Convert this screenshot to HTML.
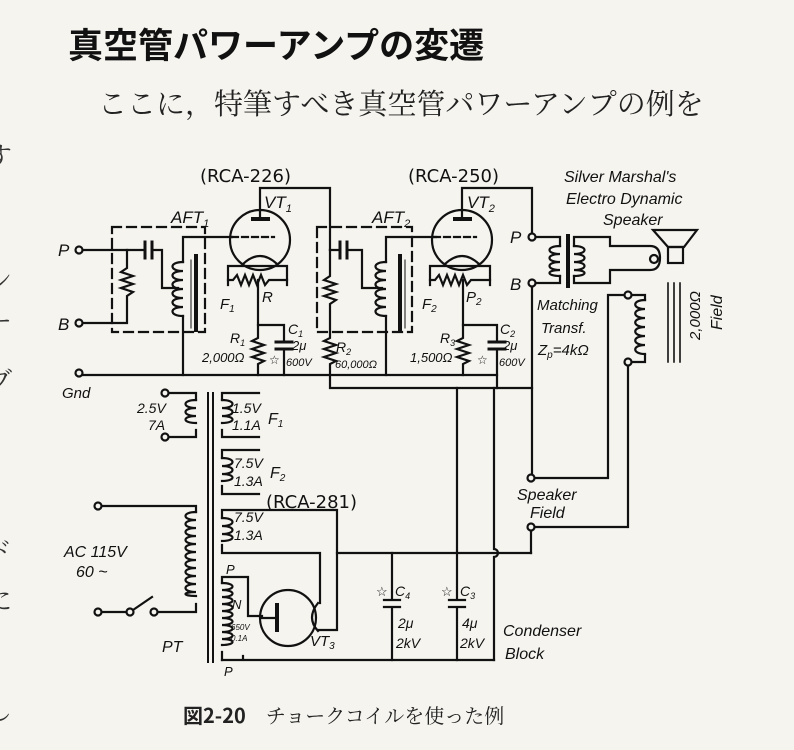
<!DOCTYPE html>
<html><head><meta charset="utf-8"><style>
body{margin:0;background:#f5f4ef;}
svg{display:block}
.t{font-family:"Liberation Sans","Noto Sans CJK JP",sans-serif;}
.i{font-family:"Liberation Sans",sans-serif;font-style:italic;fill:#111;}
</style></head><body>
<svg width="794" height="750" viewBox="0 0 794 750" xmlns="http://www.w3.org/2000/svg">
<rect width="794" height="750" fill="#f5f4ef"/>
<g font-size="26" fill="#333" style="font-family:'Noto Serif CJK JP','Noto Serif CJK SC',serif">
<text x="-14" y="165">す</text><text x="-14" y="290">ン</text><text x="-14" y="330">ー</text>
<text x="-14" y="390">ブ</text><text x="-14" y="560">ド</text><text x="-14" y="610">に</text><text x="-14" y="720">し</text>
</g>
<text x="68" y="58" class="t" font-size="35" font-weight="bold" fill="#111" style="font-family:'Noto Sans CJK JP',sans-serif">真空管パワーアンプの変遷</text>
<text x="98" y="114" font-size="29" fill="#222" style="font-family:'Noto Serif CJK JP','Noto Serif CJK SC',serif">ここに，特筆すべき真空管パワーアンプの例を</text>
<text x="183" y="723" font-size="20" fill="#222" style="font-family:'Noto Sans CJK JP',sans-serif"><tspan font-weight="bold">図2-20</tspan>　<tspan style="font-family:'Noto Serif CJK JP','Noto Serif CJK SC',serif">チョークコイルを使った例</tspan></text>

<g stroke="#111" stroke-width="2.2" fill="none" stroke-linecap="square">
<circle cx="79" cy="250" r="3.5" fill="#f5f4ef"/>
<circle cx="79" cy="323" r="3.5" fill="#f5f4ef"/>
<path d="M83 250H145M152 250H162V288H178"/>
<path d="M145 242V258M152 242V258" stroke-width="3"/>
<path d="M127 250V268l-6 4 12 4-12 4 12 4-12 4 12 4-6 4V323H83"/>
<rect x="112" y="227" width="93" height="105" stroke-dasharray="9 6"/>
<path d="M183 237H232M183 237V262"/>
<path d="M183 262c-14 0-14 9 0 9c-14 0-14 9 0 9c-14 0-14 9 0 9c-14 0-14 9 0 9c-14 0-14 9 0 9c-14 0-14 9 0 9"/>
<path d="M183 316V375"/>
<path d="M196 256V330" stroke-width="4"/>
<path d="M191 260V328" stroke-width="1"/>
<circle cx="260" cy="240" r="30"/>
<path d="M253 219H268" stroke-width="4"/>
<path d="M260 219V188H330V250"/>
<path d="M232 237H274" stroke-dasharray="6 4"/>
<path d="M243 264q17-16 34 0"/>
<path d="M243 264V266M277 264V266M228 266H287M228 266V285M287 266V285"/>
<path d="M228 280l5 0 4-5 4 10 4-10 4 10 4-10 4 10 4-10 4 10 4-5 4 0 H287"/>
<path d="M258 280V325M258 325V338l-6 3 12 4-12 4 12 4-12 4 12 4-6 3V375"/>
<path d="M258 325H284V342M284 349V375"/>
<path d="M276 342H292M276 349H292" stroke-width="3"/>
<path d="M330 250H340M347 250H362V288H382"/>
<path d="M340 242V258M347 242V258" stroke-width="3"/>
<path d="M330 250V276l-6 4 12 4-12 4 12 4-12 4 12 4-6 4V338l-6 3 12 4-12 4 12 4-12 4 12 4-6 3V388H532"/>
<rect x="317" y="227" width="95" height="105" stroke-dasharray="9 6"/>
<path d="M386 237H436M386 237V262"/>
<path d="M386 262c-14 0-14 9 0 9c-14 0-14 9 0 9c-14 0-14 9 0 9c-14 0-14 9 0 9c-14 0-14 9 0 9c-14 0-14 9 0 9"/>
<path d="M386 316V375"/>
<path d="M400 256V330" stroke-width="4"/>
<path d="M405 260V328" stroke-width="1"/>
<circle cx="462" cy="240" r="30"/>
<path d="M455 219H470" stroke-width="4"/>
<path d="M462 219V188H532V233"/>
<path d="M434 237H476" stroke-dasharray="6 4"/>
<path d="M445 264q17-16 34 0"/>
<path d="M445 264V266M479 264V266M430 266H490M430 266V285M490 266V285"/>
<path d="M430 280l5 0 4-5 4 10 4-10 4 10 4-10 4 10 4-10 4 10 4-5 4 0 H490"/>
<path d="M463 280V325M463 325V338l-6 3 12 4-12 4 12 4-12 4 12 4-6 3V375"/>
<path d="M463 325H497V342M497 349V388"/>
<path d="M489 342H505M489 349H505" stroke-width="3"/>
<circle cx="79" cy="373" r="3.5" fill="#f5f4ef"/>
<path d="M83 375H497"/>
<circle cx="532" cy="237" r="3.5" fill="#f5f4ef"/>
<circle cx="532" cy="283" r="3.5" fill="#f5f4ef"/>
<path d="M536 237H560V246M536 283H560V276"/>
<path d="M560 246c-14 0-14 8 0 8c-14 0-14 8 0 8c-14 0-14 8 0 8c-14 0-14 6 0 6"/>
<path d="M568 236V286" stroke-width="4"/>
<path d="M574 246c14 0 14 8 0 8c14 0 14 8 0 8c14 0 14 8 0 8c14 0 14 6 0 6"/>
<path d="M574 246V237H610V246H650q10 0 10 12q0 12-10 12H610V283H574V276"/>
<ellipse cx="654" cy="259" rx="4" ry="4"/>
<path d="M653 230H697L684 247H668Z"/>
<rect x="668" y="247" width="15" height="16"/>
<circle cx="628" cy="295" r="3.5" fill="#f5f4ef"/>
<circle cx="628" cy="362" r="3.5" fill="#f5f4ef"/>
<path d="M632 295H645V300M632 362H645V355"/>
<path d="M645 300c-13 0-13 9 0 9c-13 0-13 9 0 9c-13 0-13 9 0 9c-13 0-13 9 0 9c-13 0-13 9 0 9c-13 0-13 9 0 9"/>
<path d="M668 283V362M674 283V362M680 283V362" stroke-width="1.6"/>
<path d="M624 295H608V478H535M628 366V527H535"/>
<circle cx="531" cy="478" r="3.5" fill="#f5f4ef"/>
<circle cx="531" cy="527" r="3.5" fill="#f5f4ef"/>
<path d="M532 287V474M531 531V553"/>
<path d="M208 393V662M213 393V662" stroke-width="2"/>
<circle cx="165" cy="393" r="3.5" fill="#f5f4ef"/>
<circle cx="165" cy="437" r="3.5" fill="#f5f4ef"/>
<path d="M169 393H196V400M169 437H196V430"/>
<path d="M196 400c-14 0-14 8 0 8c-14 0-14 8 0 8c-14 0-14 7 0 7"/>
<path d="M222 393H259M222 437H259M222 393V400M222 437V430"/>
<path d="M222 400c14 0 14 8 0 8c14 0 14 8 0 8c14 0 14 7 0 7"/>
<path d="M222 450H259M222 494H259M222 450V458M222 494V486"/>
<path d="M222 458c14 0 14 8 0 8c14 0 14 8 0 8c14 0 14 7 0 7"/>
<path d="M222 510H337V630H318M222 510V518M222 553V545M222 553H320V603"/>
<path d="M222 518c14 0 14 8 0 8c14 0 14 8 0 8c14 0 14 7 0 7"/>
<path d="M337 553H531"/>
<circle cx="98" cy="506" r="3.5" fill="#f5f4ef"/>
<circle cx="98" cy="612" r="3.5" fill="#f5f4ef"/>
<circle cx="130" cy="612" r="3.5" fill="#f5f4ef"/>
<circle cx="154" cy="612" r="3.5" fill="#f5f4ef"/>
<path d="M102 506H196V512M102 612H126M133 610L152 597M158 612H196V604"/>
<path d="M196 512c-14 0-14 8 0 8c-14 0-14 8 0 8c-14 0-14 8 0 8c-14 0-14 8 0 8c-14 0-14 8 0 8c-14 0-14 8 0 8c-14 0-14 8 0 8c-14 0-14 8 0 8c-14 0-14 8 0 8c-14 0-14 8 0 8c-14 0-14 4 0 4"/>
<path d="M222 577H248V616H262M222 577V583M222 660V652"/>
<path d="M222 583c14 0 14 7 0 7c14 0 14 7 0 7c14 0 14 7 0 7c14 0 14 7 0 7c14 0 14 7 0 7c14 0 14 7 0 7c14 0 14 7 0 7c14 0 14 7 0 7c14 0 14 6 0 6"/>
<circle cx="288" cy="618" r="28"/>
<path d="M277 605V630" stroke-width="4"/>
<path d="M262 618H277"/>
<path d="M318 603q-12 15 0 28"/>
<path d="M222 660H494M243 656V660"/>
<path d="M392 553V600M392 607V660M384 600H400M384 607H400"/>
<path d="M457 388V600M457 607V660M449 600H465M449 607H465"/>
<path d="M494 388V549a4 4 0 0 1 0 8V660"/>
</g>
<g class="i" fill="#111">
<text x="200" y="182" font-size="18" font-style="normal" style="font-family:'DejaVu Sans',sans-serif">(RCA-226)</text>
<text x="408" y="182" font-size="18" font-style="normal" style="font-family:'DejaVu Sans',sans-serif">(RCA-250)</text>
<text x="266" y="508" font-size="18" font-style="normal" style="font-family:'DejaVu Sans',sans-serif">(RCA-281)</text>
<text x="264" y="208" font-size="17">VT<tspan font-size="11" dy="4">1</tspan></text>
<text x="467" y="208" font-size="17">VT<tspan font-size="11" dy="4">2</tspan></text>
<text x="171" y="223" font-size="17">AFT<tspan font-size="11" dy="4">1</tspan></text>
<text x="372" y="223" font-size="17">AFT<tspan font-size="11" dy="4">2</tspan></text>
<text x="58" y="256" font-size="17">P</text>
<text x="58" y="330" font-size="17">B</text>
<text x="510" y="243" font-size="17">P</text>
<text x="510" y="290" font-size="17">B</text>
<text x="62" y="398" font-size="15">Gnd</text>
<text x="220" y="309" font-size="15">F<tspan font-size="10" dy="3">1</tspan></text>
<text x="262" y="302" font-size="15">R</text>
<text x="422" y="309" font-size="15">F<tspan font-size="10" dy="3">2</tspan></text>
<text x="466" y="302" font-size="15">P<tspan font-size="10" dy="3">2</tspan></text>
<text x="230" y="343" font-size="14">R<tspan font-size="9" dy="3">1</tspan></text>
<text x="202" y="362" font-size="13">2,000Ω</text>
<text x="269" y="364" font-size="12" font-style="normal">☆</text>
<text x="288" y="334" font-size="14">C<tspan font-size="9" dy="3">1</tspan></text>
<text x="292" y="350" font-size="13">2μ</text>
<text x="286" y="366" font-size="11">600V</text>
<text x="336" y="352" font-size="14">R<tspan font-size="9" dy="3">2</tspan></text>
<text x="335" y="368" font-size="11">60,000Ω</text>
<text x="440" y="343" font-size="14">R<tspan font-size="9" dy="3">3</tspan></text>
<text x="410" y="362" font-size="13">1,500Ω</text>
<text x="477" y="364" font-size="12" font-style="normal">☆</text>
<text x="500" y="334" font-size="14">C<tspan font-size="9" dy="3">2</tspan></text>
<text x="503" y="350" font-size="13">2μ</text>
<text x="499" y="366" font-size="11">600V</text>
<text x="564" y="182" font-size="16">Silver Marshal's</text>
<text x="566" y="204" font-size="16">Electro Dynamic</text>
<text x="603" y="225" font-size="16">Speaker</text>
<text x="537" y="310" font-size="15">Matching</text>
<text x="541" y="333" font-size="15">Transf.</text>
<text x="538" y="355" font-size="15">Z<tspan font-size="10" dy="3">p</tspan><tspan dy="-3">=4kΩ</tspan></text>
<text transform="translate(700,340) rotate(-90)" font-size="15">2,000Ω</text>
<text transform="translate(722,330) rotate(-90)" font-size="16">Field</text>
<text x="517" y="500" font-size="16">Speaker</text>
<text x="530" y="518" font-size="16">Field</text>
<text x="137" y="413" font-size="14">2.5V</text>
<text x="148" y="430" font-size="14">7A</text>
<text x="232" y="413" font-size="14">1.5V</text>
<text x="232" y="430" font-size="14">1.1A</text>
<text x="268" y="424" font-size="16">F<tspan font-size="10" dy="3">1</tspan></text>
<text x="234" y="468" font-size="14">7.5V</text>
<text x="234" y="486" font-size="14">1.3A</text>
<text x="270" y="478" font-size="16">F<tspan font-size="10" dy="3">2</tspan></text>
<text x="234" y="522" font-size="14">7.5V</text>
<text x="234" y="540" font-size="14">1.3A</text>
<text x="64" y="557" font-size="16">AC 115V</text>
<text x="76" y="577" font-size="16">60 ~</text>
<text x="226" y="574" font-size="13">P</text>
<text x="232" y="609" font-size="13">N</text>
<text x="231" y="630" font-size="8">650V</text>
<text x="231" y="641" font-size="8">0.1A</text>
<text x="224" y="676" font-size="13">P</text>
<text x="162" y="652" font-size="16">PT</text>
<text x="310" y="646" font-size="15">VT<tspan font-size="10" dy="3">3</tspan></text>
<text x="376" y="596" font-size="13" font-style="normal">☆</text>
<text x="395" y="596" font-size="14">C<tspan font-size="9" dy="3">4</tspan></text>
<text x="398" y="628" font-size="14">2μ</text>
<text x="396" y="648" font-size="14">2kV</text>
<text x="441" y="596" font-size="13" font-style="normal">☆</text>
<text x="460" y="596" font-size="14">C<tspan font-size="9" dy="3">3</tspan></text>
<text x="462" y="628" font-size="14">4μ</text>
<text x="460" y="648" font-size="14">2kV</text>
<text x="503" y="636" font-size="16">Condenser</text>
<text x="505" y="659" font-size="16">Block</text>
</g>
</svg>
</body></html>
